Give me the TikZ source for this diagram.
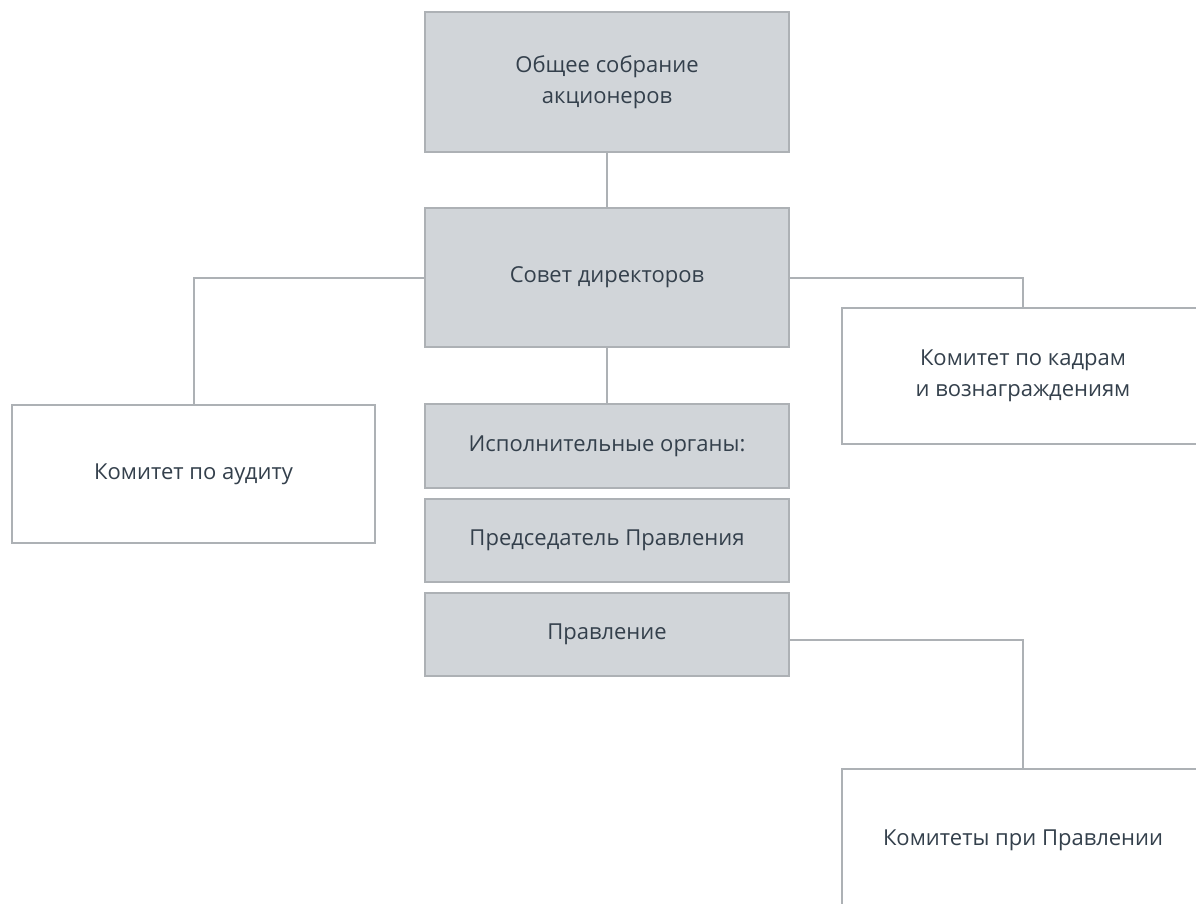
\documentclass[tikz,border=0pt]{standalone}
\usepackage{fontspec}
\setmainfont{Open Sans}
\usepackage{xcolor}
\usetikzlibrary{positioning, calc}

\definecolor{boxgray}{HTML}{D1D5D9}
\definecolor{edgegray}{HTML}{ADB1B5}
\definecolor{inkslate}{HTML}{34404C}

\begin{document}
\begin{tikzpicture}[
    x=1pt, y=-1pt,
    organ/.style={draw=edgegray, line width=1.5pt, fill=boxgray, minimum width=364pt, align=center, text=inkslate, font=\fontsize{22}{31}\selectfont},
    cmte/.style={organ, fill=white, minimum width=362pt},
    link/.style={draw=edgegray, line width=2pt}
]
    \clip (0,0) rectangle (1196,903);
    \fill[white] (0,0) rectangle (1196,903);
    \node[organ, minimum height=140pt] (gms) at (607,82) {Общее собрание\\акционеров};
    \node[organ, minimum height=139pt] (board) at (607,277.5) {Совет директоров};
    \node[cmte, minimum width=363pt, minimum height=138pt] (audit) at (193.5,474) {Комитет по аудиту};
    \node[cmte, minimum height=136pt] (hr) at (1023,376) {Комитет по кадрам\\и вознаграждениям};
    \node[organ, minimum height=84pt] (exec) at (607,446) {Исполнительные органы:};
    \node[organ, minimum height=83pt] (chair) at (607,540.5) {Председатель Правления};
    \node[organ, minimum height=83pt] (mgmt) at (607,634.5) {Правление};
    \node[cmte, minimum height=142pt] (mcmte) at (1023,840) {Комитеты при Правлении};
    \draw[link] (gms.south) -- (board.north);
    \draw[link] (board.west) -| (audit.north);
    \draw[link] (board.east) -| (hr.north);
    \draw[link] (board.south) -- (exec.north);
    \draw[link] ($(mgmt.east)+(0,5)$) -| (mcmte.north);
\end{tikzpicture}
\end{document}
